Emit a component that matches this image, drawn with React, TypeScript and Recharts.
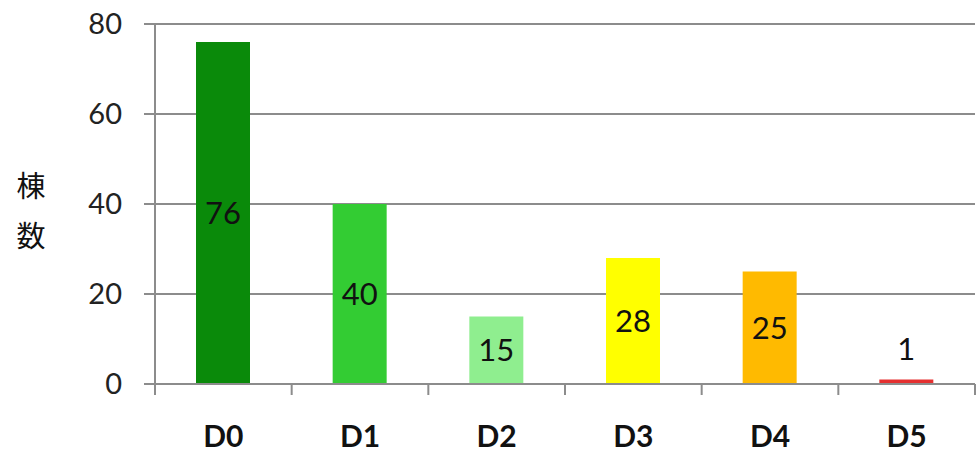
import React from "react";
import { BarChart, Bar, XAxis, YAxis, CartesianGrid, LabelList, Cell } from "recharts";

// 各ランクの棟数
const categories = ["D0", "D1", "D2", "D3", "D4", "D5"];
const counts = [76, 40, 15, 28, 25, 1];
const barColors = ["#0a8a0a", "#33cc33", "#8fee8f", "#ffff00", "#ffba00", "#e53030"];
const yTicks = [0, 20, 40, 60, 80];

const data = categories.map((name, i) => ({ name, value: counts[i] }));

const FONT = "Lato, 'Noto Sans', sans-serif";
const GRAY = "#8c8c8c";

// 値ラベル: 高さが小さい棒は上に置く
const ValueLabel = (props: any) => {
  const { x, y, width, height, value } = props;
  const cx = x + width / 2;
  const cy = height < 20 ? y - 30 : y + height / 2;
  return (
    <text x={cx} y={cy} dy="0.35em" textAnchor="middle" fill="#111" fontSize={31} fontFamily={FONT}>
      {value}
    </text>
  );
};

// カテゴリの境界に目盛り線を引く
const CatTick = (props: any) => {
  const { x, y, payload, index, visibleTicksCount } = props;
  const half = payload.offset || 0;
  const top = y - 11 - 31;
  const isLast = index === (visibleTicksCount ?? categories.length) - 1;
  return (
    <g>
      <line x1={x - half} x2={x - half} y1={top} y2={top + 11} stroke={GRAY} strokeWidth={2} />
      {isLast && <line x1={x + half} x2={x + half} y1={top} y2={top + 11} stroke={GRAY} strokeWidth={2} />}
      <text x={x} y={y} dy="0.71em" textAnchor="middle" fill="#111" fontSize={30} fontWeight={700} fontFamily={FONT}>
        {payload.value}
      </text>
    </g>
  );
};

const YLabel = (props: any) => {
  const { viewBox } = props;
  const x = viewBox.x + 31;
  return (
    <text x={x} textAnchor="middle" fill="#111" fontSize={29} fontFamily="'Noto Sans CJK JP', sans-serif">
      <tspan x={x} y={197}>棟</tspan>
      <tspan x={x} y={247}>数</tspan>
    </text>
  );
};

export default function App() {
  return (
    <div style={{ position: "absolute", left: 0, top: 0, background: "#fff" }}>
      <BarChart
        width={976}
        height={455}
        data={data}
        margin={{ top: 24, right: 1, bottom: 0, left: 0 }}
      >
        <CartesianGrid vertical={false} stroke={GRAY} strokeWidth={2} />
        <XAxis
          dataKey="name"
          height={71}
          stroke={GRAY}
          strokeWidth={2}
          tickLine={false}
          tickSize={11}
          tickMargin={31}
          interval={0}
          tick={<CatTick />}
        />
        <YAxis
          width={155}
          domain={[0, 80]}
          ticks={yTicks}
          stroke={GRAY}
          strokeWidth={2}
          tickSize={11}
          tickMargin={22}
          tickLine={{ stroke: GRAY, strokeWidth: 2 }}
          tick={{ fill: "#222", fontSize: 29, fontFamily: FONT }}
          label={<YLabel />}
        />
        <Bar dataKey="value" barSize={54} isAnimationActive={false}>
          {data.map((d, i) => (
            <Cell key={d.name} fill={barColors[i]} />
          ))}
          <LabelList dataKey="value" content={<ValueLabel />} />
        </Bar>
      </BarChart>
    </div>
  );
}
